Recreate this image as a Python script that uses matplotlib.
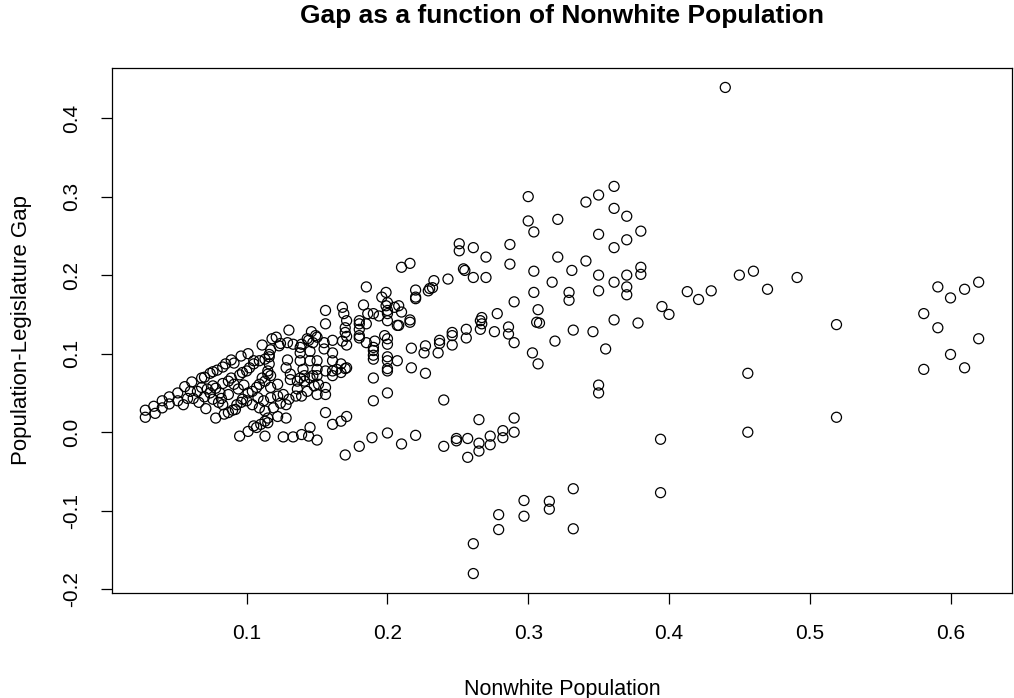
import matplotlib
matplotlib.use("Agg")
import matplotlib.pyplot as plt
import numpy as np

plt.rcParams['font.family'] = ['Liberation Sans', 'DejaVu Sans']

title = "Gap as a function of Nonwhite Population"
xlabel = "Nonwhite Population"
ylabel = "Population-Legislature Gap"
xticks = [0.1, 0.2, 0.3, 0.4, 0.5, 0.6]
yticks = [-0.2, -0.1, 0.0, 0.1, 0.2, 0.3, 0.4]

# Left cluster (nonwhite share below ~0.12)
nonwhite_a = [0.028, 0.028, 0.034, 0.035, 0.040, 0.040, 0.045, 0.045, 0.051, 0.051,
              0.055, 0.056, 0.061, 0.058, 0.062, 0.065, 0.068, 0.070, 0.074, 0.076,
              0.079, 0.083, 0.085, 0.089, 0.091, 0.096, 0.101, 0.068, 0.072, 0.076,
              0.078, 0.083, 0.087, 0.089, 0.091, 0.095, 0.097, 0.100, 0.102, 0.105,
              0.109, 0.113, 0.116, 0.071, 0.076, 0.082, 0.087, 0.083, 0.078, 0.084,
              0.090, 0.093, 0.096, 0.100, 0.101, 0.104, 0.107, 0.109, 0.113, 0.117,
              0.095, 0.101, 0.107, 0.113, 0.113, 0.111, 0.118, 0.116, 0.116, 0.115,
              0.111, 0.108, 0.112, 0.109, 0.113, 0.097, 0.104, 0.087, 0.092, 0.105,
              0.110, 0.115, 0.060, 0.070, 0.074, 0.066, 0.080, 0.094, 0.098, 0.081]
gap_a = [0.028, 0.019, 0.033, 0.024, 0.040, 0.031, 0.045, 0.036, 0.050, 0.040,
         0.035, 0.058, 0.064, 0.043, 0.043, 0.052, 0.069, 0.070, 0.075, 0.077,
         0.079, 0.083, 0.087, 0.092, 0.088, 0.097, 0.100, 0.057, 0.055, 0.059,
         0.056, 0.062, 0.065, 0.069, 0.061, 0.073, 0.076, 0.078, 0.082, 0.087,
         0.091, 0.093, 0.096, 0.030, 0.042, 0.043, 0.048, 0.035, 0.018, 0.023,
         0.028, 0.035, 0.038, 0.040, 0.050, 0.052, 0.057, 0.061, 0.065, 0.072,
         -0.005, 0.001, 0.006, 0.014, -0.005, 0.111, 0.119, 0.099, 0.087, 0.074,
         0.069, 0.044, 0.040, 0.031, 0.027, 0.042, 0.035, 0.025, 0.029, 0.008,
         0.010, 0.012, 0.052, 0.045, 0.050, 0.038, 0.038, 0.055, 0.060, 0.050]

# Middle cluster (nonwhite share ~0.12 to ~0.21)
nonwhite_b = [0.130, 0.146, 0.121, 0.117, 0.123, 0.129, 0.133, 0.138, 0.144, 0.147,
              0.150, 0.124, 0.139, 0.143, 0.149, 0.155, 0.161, 0.155, 0.161, 0.138,
              0.145, 0.138, 0.145, 0.150, 0.161, 0.167, 0.170, 0.164, 0.161, 0.140,
              0.138, 0.145, 0.150, 0.156, 0.161, 0.167, 0.131, 0.136, 0.141, 0.136,
              0.148, 0.151, 0.156, 0.150, 0.156, 0.115, 0.117, 0.122, 0.117, 0.122,
              0.126, 0.124, 0.128, 0.130, 0.135, 0.139, 0.143, 0.119, 0.122, 0.115,
              0.128, 0.156, 0.161, 0.167, 0.171, 0.145, 0.144, 0.139, 0.133, 0.150,
              0.126, 0.129, 0.128, 0.141, 0.147, 0.171, 0.150, 0.131, 0.105, 0.156,
              0.168, 0.169, 0.171, 0.170, 0.170, 0.171, 0.171, 0.168, 0.156, 0.183,
              0.185, 0.199, 0.196, 0.200, 0.205, 0.200, 0.207, 0.180, 0.180, 0.180,
              0.180, 0.185, 0.180, 0.186, 0.190, 0.194, 0.200, 0.185, 0.191, 0.190,
              0.190, 0.190, 0.190, 0.200, 0.200, 0.200, 0.200, 0.200, 0.207, 0.190,
              0.200, 0.190, 0.200, 0.189, 0.180, 0.170, 0.200]
gap_b = [0.130, 0.128, 0.121, 0.105, 0.110, 0.114, 0.112, 0.108, 0.117, 0.114,
         0.121, 0.113, 0.112, 0.119, 0.123, 0.114, 0.117, 0.106, 0.101, 0.101,
         0.103, 0.091, 0.091, 0.091, 0.091, 0.087, 0.081, 0.080, 0.078, 0.080,
         0.069, 0.069, 0.072, 0.078, 0.072, 0.076, 0.067, 0.065, 0.065, 0.055,
         0.059, 0.061, 0.057, 0.048, 0.048, 0.078, 0.057, 0.061, 0.044, 0.046,
         0.048, 0.037, 0.035, 0.042, 0.046, 0.046, 0.052, 0.031, 0.020, 0.018,
         0.018, 0.025, 0.010, 0.014, 0.020, 0.006, -0.005, -0.003, -0.006, -0.010,
         -0.006, 0.092, 0.082, 0.072, 0.072, 0.082, 0.080, 0.074, 0.091, 0.155,
         0.159, 0.151, 0.142, 0.133, 0.127, 0.122, 0.111, 0.116, 0.138, 0.162,
         0.185, 0.178, 0.172, 0.165, 0.159, 0.151, 0.136, 0.142, 0.138, 0.131,
         0.123, 0.114, 0.120, 0.151, 0.151, 0.148, 0.142, 0.138, 0.116, 0.108,
         0.104, 0.098, 0.093, 0.119, 0.112, 0.096, 0.091, 0.081, 0.091, 0.069,
         0.050, 0.040, -0.001, -0.007, -0.018, -0.029, 0.155]

# Right-middle cluster (nonwhite share ~0.2 to ~0.4)
nonwhite_c = [0.300, 0.300, 0.304, 0.287, 0.287, 0.304, 0.304, 0.290, 0.278, 0.307,
              0.251, 0.251, 0.261, 0.270, 0.270, 0.261, 0.254, 0.255, 0.243, 0.233,
              0.230, 0.232, 0.229, 0.220, 0.220, 0.220, 0.210, 0.216, 0.208, 0.210,
              0.216, 0.267, 0.199, 0.216, 0.208, 0.198, 0.217, 0.226, 0.227, 0.236,
              0.237, 0.237, 0.246, 0.246, 0.246, 0.256, 0.256, 0.266, 0.267, 0.266,
              0.276, 0.286, 0.286, 0.290, 0.303, 0.306, 0.307, 0.200, 0.217, 0.227,
              0.240, 0.210, 0.220, 0.240, 0.249, 0.249, 0.257, 0.257, 0.265, 0.265,
              0.265, 0.273, 0.273, 0.282, 0.282, 0.290, 0.290, 0.321, 0.341, 0.350,
              0.361, 0.361, 0.370, 0.350, 0.361, 0.370, 0.380, 0.321, 0.341, 0.331,
              0.317, 0.350, 0.361, 0.370, 0.380, 0.380, 0.329, 0.329, 0.350, 0.370,
              0.370, 0.395, 0.400, 0.308, 0.332, 0.346, 0.361, 0.378, 0.319, 0.355,
              0.350, 0.350, 0.332, 0.297, 0.315, 0.315, 0.279, 0.297, 0.279, 0.332,
              0.261, 0.261, 0.394, 0.394]
gap_c = [0.300, 0.269, 0.255, 0.239, 0.214, 0.205, 0.178, 0.166, 0.151, 0.156,
         0.240, 0.231, 0.235, 0.223, 0.197, 0.197, 0.208, 0.206, 0.195, 0.193,
         0.183, 0.184, 0.180, 0.181, 0.172, 0.170, 0.210, 0.215, 0.161, 0.153,
         0.143, 0.146, 0.161, 0.140, 0.136, 0.123, 0.107, 0.101, 0.110, 0.101,
         0.117, 0.113, 0.127, 0.123, 0.111, 0.120, 0.131, 0.131, 0.138, 0.142,
         0.128, 0.134, 0.125, 0.114, 0.101, 0.140, 0.087, 0.078, 0.082, 0.075,
         0.041, -0.015, -0.004, -0.018, -0.008, -0.011, -0.008, -0.032, 0.016, -0.014,
         -0.024, -0.005, -0.016, 0.002, -0.007, 0.018, 0.000, 0.271, 0.293, 0.302,
         0.313, 0.285, 0.275, 0.252, 0.235, 0.245, 0.256, 0.223, 0.218, 0.206,
         0.191, 0.200, 0.191, 0.200, 0.210, 0.201, 0.178, 0.168, 0.180, 0.185,
         0.175, 0.160, 0.150, 0.139, 0.130, 0.128, 0.143, 0.139, 0.116, 0.106,
         0.060, 0.050, -0.072, -0.087, -0.088, -0.098, -0.105, -0.107, -0.124, -0.123,
         -0.142, -0.180, -0.009, -0.077]

# Right cluster (nonwhite share above ~0.4)
nonwhite_d = [0.440, 0.413, 0.421, 0.430, 0.450, 0.460, 0.470, 0.491, 0.519, 0.456,
              0.519, 0.456, 0.591, 0.600, 0.610, 0.620, 0.581, 0.591, 0.620, 0.600,
              0.581, 0.610]
gap_d = [0.439, 0.179, 0.169, 0.180, 0.200, 0.205, 0.182, 0.197, 0.137, 0.075,
         0.019, 0.000, 0.185, 0.171, 0.182, 0.191, 0.151, 0.133, 0.119, 0.099,
         0.080, 0.082]

x = np.array(nonwhite_a + nonwhite_b + nonwhite_c + nonwhite_d)
y = np.array(gap_a + gap_b + gap_c + gap_d)

fig = plt.figure(figsize=(10.14, 6.98), dpi=100)
ax = fig.add_axes([112 / 1014, 1 - 593 / 698, 900 / 1014, 525 / 698])

ax.scatter(x, y, s=52, facecolors='none', edgecolors='black', linewidths=0.9)

# R-style 4% padding
xr = x.max() - x.min()
yr = y.max() - y.min()
ax.set_xlim(x.min() - 0.04 * xr, x.max() + 0.04 * xr)
ax.set_ylim(y.min() - 0.04 * yr, y.max() + 0.04 * yr)

ax.set_xticks(xticks)
ax.set_xticklabels([f"{v:.1f}" for v in xticks])
ax.set_yticks(yticks)
ax.set_yticklabels([f"{v:.1f}" for v in yticks], rotation=90, va='center')
ax.tick_params(direction='out', length=8, width=0.9, labelsize=15, pad=14, colors='black')
for sp in ax.spines.values():
    sp.set_linewidth(0.9)

ax.set_xlabel(xlabel, fontsize=15.5, labelpad=26)
ax.set_ylabel(ylabel, fontsize=16, labelpad=22)
ax_cx = (112 + 900 / 2) / 1014
fig.text(ax_cx, 1 - 16 / 698, title, ha='center', va='center', fontsize=19, fontweight='bold')

fig.savefig("out.png", dpi=100)
